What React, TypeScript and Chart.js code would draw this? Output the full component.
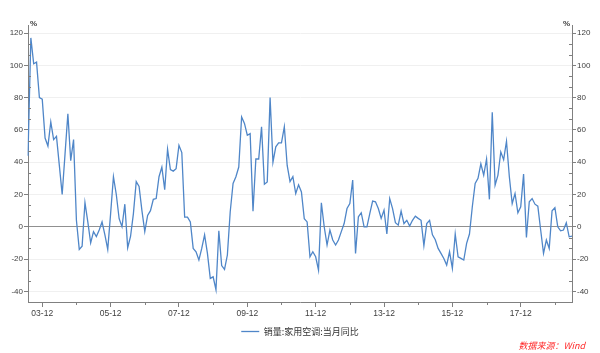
import { useEffect, useRef } from 'react';
import { Chart, registerables } from 'chart.js';

Chart.register(...registerables);

// Monthly series 2003-07 .. 2019-06 (销量:家用空调:当月同比, %)
const START_YEAR = 2003;
const START_MONTH = 7;
const valuesA = [
  44, 117, 101, 102, 80, 79, 55, 50, 65, 54,
  56, 38, 20, 45, 70, 41, 54, 4, -14, -12,
  15, 3, -10, -3, -6, -2, 3, -5, -14, 8,
  31, 20, 5, 0, 14, -13, -6, 8, 28, 25,
  10, -3, 7, 10, 17, 17.5, 31, 37,
];
const valuesB = [
  23, 48, 35.5, 34.5, 36, 50.5, 46, 6, 6, 3,
  -13.4, -15.5, -20.6, -13.4, -5, -16.5, -32, -31, -39, -2.5,
  -24, -26.4, -17.5, 9.3, 26.8, 31, 37, 68, 64, 56.7,
  57.7, 9.7, 42, 42, 62, 26.4, 27.8, 80, 40, 49.5,
  52, 52, 62, 38, 28, 31, 20.6, 26,
];
const valuesC = [
  21.6, 5, 3, -18.6, -15.5, -18.6, -26.8, 14.8, 0, -11.3,
  -2, -8.2, -11.3, -8.2, -3, 2, 11.3, 14.4, 29, -16.5,
  6.2, 8.7, 0, 0, 8.2, 15.9, 15.5, 11.3, 5.2, 10.3,
  -4.5, 17.5, 11.3, 2.5, 1, 9.7, 2, 4, 0.4, 4,
  6.6, 5.2, 4, -11.7, 2, 4, -5, -8,
];
const valuesD = [
  -13.4, -16.5, -19.6, -23.7, -15.5, -25.8, -4.5, -18.6, -19.6, -20.6,
  -10.3, -4.5, 12.4, 26.8, 30, 39, 32, 42, 17, 71,
  25.8, 32, 46.4, 41.6, 53, 31, 14.4, 20.6, 8.7, 12.4,
  32.6, -6.6, 15.5, 17.5, 14, 12.8, -2, -16.5, -8.2, -13.4,
  9.9, 11.8, 0, -2.5, -2, 2.5, -6.2, -5.8,
];
const values = [...valuesA, ...valuesB, ...valuesC, ...valuesD];

const months = values.map((_, i) => {
  const m = START_MONTH - 1 + i;
  const y = START_YEAR + Math.floor(m / 12);
  const mm = (m % 12) + 1;
  return `${String(y % 100).padStart(2, '0')}-${String(mm).padStart(2, '0')}`;
});

const tickLabels = ['03-12', '05-12', '07-12', '09-12', '11-12', '13-12', '15-12', '17-12'];
const yTicks = [-40, -20, 0, 20, 40, 60, 80, 100, 120];
const Y_MIN = -46.6;
const Y_MAX = 125;

const seriesName = '销量:家用空调:当月同比';
const sourceText = '数据来源：Wind';

const LINE_COLOR = '#4f86c8';
const AXIS_COLOR = '#808080';
const TEXT_COLOR = '#404040';

const extrasPlugin = {
  id: 'extras',
  afterDraw(chart: any) {
    const ctx = chart.ctx;
    const area = chart.chartArea;
    const ys = chart.scales.y;
    const xs = chart.scales.x;
    ctx.save();
    ctx.strokeStyle = AXIS_COLOR;
    ctx.lineWidth = 1;
    ctx.beginPath();
    const step = 20 / 3;
    for (let k = Math.ceil(ys.min / step); k <= Math.floor(ys.max / step); k++) {
      if (k % 3 === 0) continue;
      const py = Math.round(ys.getPixelForValue(k * step)) + 0.5;
      ctx.moveTo(area.left, py);
      ctx.lineTo(area.left + 3, py);
      ctx.moveTo(area.right, py);
      ctx.lineTo(area.right - 3, py);
    }
    months.forEach((m, i) => {
      if (m.endsWith('-12') && !tickLabels.includes(m)) {
        const px = Math.round(xs.getPixelForValue(i)) + 0.5;
        ctx.moveTo(px, area.bottom);
        ctx.lineTo(px, area.bottom + 3);
      }
    });
    ctx.stroke();

    ctx.fillStyle = TEXT_COLOR;
    ctx.font = 'bold 8px "Liberation Sans"';
    ctx.textBaseline = 'middle';
    ctx.textAlign = 'left';
    ctx.fillText('%', area.left + 2, area.top - 1);
    ctx.textAlign = 'right';
    ctx.fillText('%', area.right - 2, area.top - 1);

    ctx.fillStyle = '#ff2a2a';
    ctx.font = 'italic 9px "Noto Sans CJK SC"';
    ctx.textAlign = 'right';
    ctx.fillText(sourceText, 585, 346);
    ctx.restore();
  },
};

export default function App() {
  const ref = useRef<HTMLCanvasElement>(null);

  useEffect(() => {
    if (!ref.current) return;
    const tickFont = { family: '"Liberation Sans", Arial, sans-serif', size: 8 };
    const yScaleBase = (position: 'left' | 'right') => ({
      type: 'linear' as const,
      position,
      min: Y_MIN,
      max: Y_MAX,
      afterBuildTicks: (s: any) => {
        s.ticks = yTicks.map((v) => ({ value: v }));
      },
      afterFit: (s: any) => {
        s.width = 28;
      },
      border: { display: true, color: AXIS_COLOR, width: 1 },
      grid: {
        display: true,
        drawOnChartArea: position === 'left',
        drawTicks: true,
        tickLength: 4,
        tickColor: AXIS_COLOR,
        color: (c: any) => (c.tick && c.tick.value === 0 ? '#909090' : '#f0f0f0'),
        lineWidth: 1,
      },
      ticks: {
        color: TEXT_COLOR,
        font: tickFont,
        padding: 1,
        callback: (v: any) => String(v),
      },
    });

    const chart = new Chart(ref.current, {
      type: 'line',
      data: {
        labels: months,
        datasets: [
          {
            label: seriesName,
            data: values,
            borderColor: LINE_COLOR,
            backgroundColor: LINE_COLOR,
            borderWidth: 1.3,
            pointRadius: 0,
            tension: 0,
            fill: false,
          },
        ],
      },
      options: {
        animation: false,
        responsive: false,
        maintainAspectRatio: false,
        layout: { padding: { top: 25, left: 0, right: 0, bottom: 7 } },
        plugins: {
          legend: {
            display: true,
            position: 'bottom',
            labels: {
              usePointStyle: true,
              pointStyle: 'line',
              pointStyleWidth: 18,
              boxHeight: 9,
              padding: 5,
              color: '#333333',
              font: { family: '"Noto Sans CJK SC", sans-serif', size: 9 },
            },
          },
          tooltip: { enabled: false },
        },
        scales: {
          x: {
            type: 'category',
            offset: false,
            afterBuildTicks: (s: any) => {
              s.ticks = s.ticks.filter((t: any) => months[t.value] && months[t.value].endsWith('-12'));
            },
            afterFit: (s: any) => {
              s.height = 20;
            },
            border: { display: true, color: AXIS_COLOR, width: 1 },
            grid: {
              display: true,
              drawOnChartArea: false,
              drawTicks: true,
              tickLength: 5,
              tickColor: (c: any) =>
                c.tick && tickLabels.includes(months[c.tick.value]) ? AXIS_COLOR : 'rgba(0,0,0,0)',
            },
            ticks: {
              autoSkip: false,
              maxRotation: 0,
              color: TEXT_COLOR,
              font: { ...tickFont, size: 8.5 },
              padding: 2,
              callback: (v: any) => (tickLabels.includes(months[v]) ? months[v] : ''),
            },
          },
          y: yScaleBase('left'),
          y2: yScaleBase('right'),
        },
      } as any,
      plugins: [extrasPlugin],
    });
    return () => chart.destroy();
  }, []);

  return (
    <div style={{ position: 'fixed', left: 0, top: 0, width: 600, height: 353, background: '#fff' }}>
      <canvas ref={ref} width={600} height={353} style={{ width: 600, height: 353, display: 'block' }} />
    </div>
  );
}
